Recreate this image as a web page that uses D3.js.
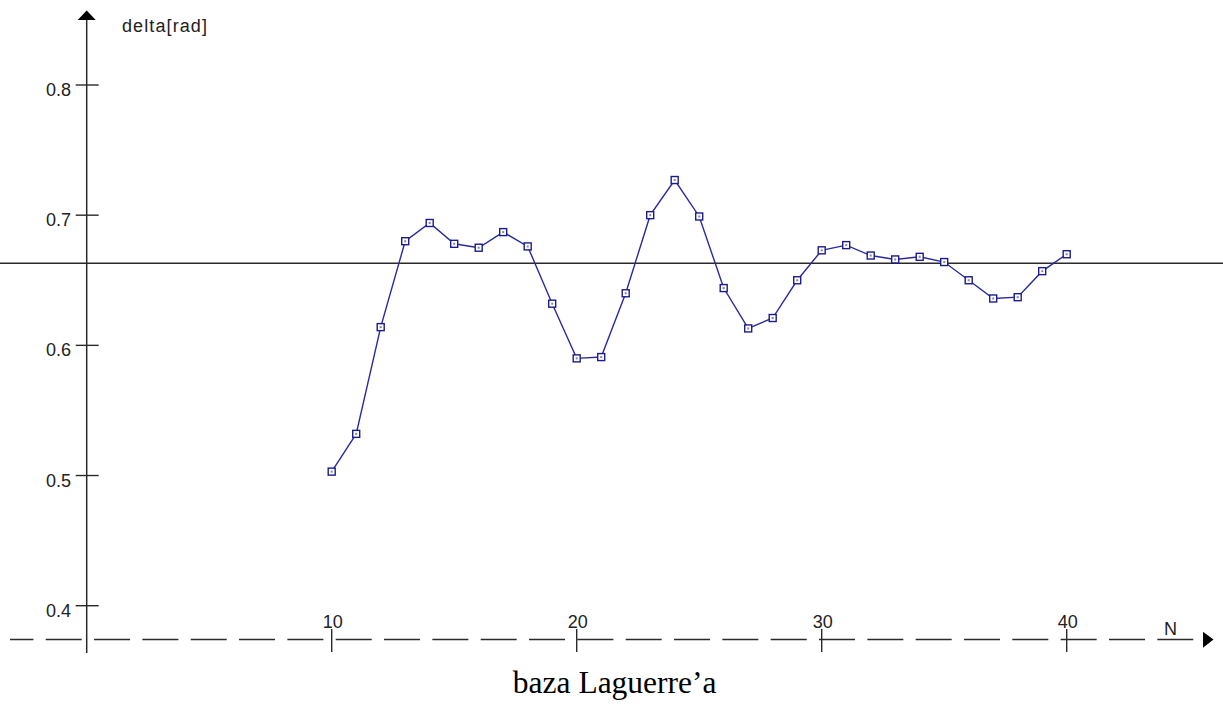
<!DOCTYPE html>
<html>
<head>
<meta charset="utf-8">
<script src="https://cdn.jsdelivr.net/npm/d3@7"></script>
<style>
  html, body { margin: 0; padding: 0; background: #fff; }
  svg { display: block; }
</style>
</head>
<body>
<svg id="chart" width="1223" height="704"></svg>
<script>
// Series: phase delta [rad] against the number of Laguerre basis functions N
const nValues = [10, 11, 12, 13, 14, 15, 16, 17, 18, 19, 20, 21, 22, 23, 24, 25,
                 26, 27, 28, 29, 30, 31, 32, 33, 34, 35, 36, 37, 38, 39, 40];
const deltaValues = [0.503, 0.532, 0.614, 0.680, 0.694, 0.678, 0.675, 0.687, 0.676, 0.632,
                     0.590, 0.591, 0.640, 0.700, 0.727, 0.699, 0.644, 0.613, 0.621, 0.650,
                     0.673, 0.677, 0.669, 0.666, 0.668, 0.664, 0.650, 0.636, 0.637, 0.657, 0.670];
const referenceLevel = 0.663;
const yTicks = [0.4, 0.5, 0.6, 0.7, 0.8];
const xTicks = [10, 20, 30, 40];
const yAxisLabel = "delta[rad]";
const xAxisLabel = "N";
const caption = "baza Laguerre\u2019a";

const svg = d3.select("#chart");
const W = 1223;

const x = d3.scaleLinear().domain([0, 40]).range([86.7, 1066.7]);
const y = d3.scaleLinear().domain([0.4, 0.8]).range([605.7, 85]);

const axisColor = "#2a2a2a";
const seriesColor = "#2a2aa0";
const markColor = "#1c1c8c";
const x0 = x(0);
const axisY = 639.5;

// Horizontal axis: long dashes with an arrowhead
svg.append("line")
  .attr("x1", 10).attr("x2", 1194.5)
  .attr("y1", axisY).attr("y2", axisY)
  .attr("stroke", axisColor).attr("stroke-width", 1.4)
  .attr("stroke-dasharray", "36 12.33")
  .attr("stroke-dashoffset", 12.6);
svg.append("path")
  .attr("d", `M1203,631.7 L1213.5,639.5 L1203,647.7 Z`)
  .attr("fill", "#000");

// Vertical axis with arrowhead
svg.append("line")
  .attr("x1", x0).attr("x2", x0)
  .attr("y1", 18).attr("y2", 653)
  .attr("stroke", axisColor).attr("stroke-width", 1.5);
svg.append("path")
  .attr("d", `M${x0},10.5 L${x0 + 9},20 L${x0 - 9},20 Z`)
  .attr("fill", "#000");

// Y ticks and labels
const yt = svg.append("g");
yt.selectAll("line").data(yTicks).join("line")
  .attr("x1", x0 - 11).attr("x2", x0 + 12)
  .attr("y1", d => y(d)).attr("y2", d => y(d))
  .attr("stroke", axisColor).attr("stroke-width", 1.4);
yt.selectAll("text").data(yTicks).join("text")
  .attr("x", 71).attr("y", d => y(d) + 11)
  .attr("text-anchor", "end")
  .attr("font-family", "'Liberation Sans', Arial, sans-serif")
  .attr("font-size", 18).attr("fill", "#222")
  .text(d => d3.format(".1f")(d));

// X ticks and labels
const xt = svg.append("g");
xt.selectAll("line").data(xTicks).join("line")
  .attr("x1", d => x(d)).attr("x2", d => x(d))
  .attr("y1", 629).attr("y2", 652)
  .attr("stroke", axisColor).attr("stroke-width", 1.4);
xt.selectAll("text").data(xTicks).join("text")
  .attr("x", d => x(d) + 1).attr("y", 628)
  .attr("text-anchor", "middle")
  .attr("font-family", "'Liberation Sans', Arial, sans-serif")
  .attr("font-size", 18).attr("fill", "#222")
  .text(d => d);

// Axis titles
svg.append("text")
  .attr("x", 122).attr("y", 31.5)
  .attr("font-family", "'Liberation Sans', Arial, sans-serif")
  .attr("font-size", 18).attr("fill", "#222")
  .attr("textLength", 85).attr("lengthAdjust", "spacing")
  .text(yAxisLabel);
svg.append("text")
  .attr("x", 1164).attr("y", 635)
  .attr("font-family", "'Liberation Sans', Arial, sans-serif")
  .attr("font-size", 18).attr("fill", "#222")
  .text(xAxisLabel);

// Reference level across the full width
svg.append("line")
  .attr("x1", 0).attr("x2", W)
  .attr("y1", y(referenceLevel)).attr("y2", y(referenceLevel))
  .attr("stroke", axisColor).attr("stroke-width", 1.5);

// Series line
const pts = nValues.map((n, i) => [n, deltaValues[i]]);
svg.append("path")
  .datum(pts)
  .attr("d", d3.line().x(d => x(d[0])).y(d => y(d[1])))
  .attr("fill", "none")
  .attr("stroke", seriesColor).attr("stroke-width", 1.4);

// Square markers
const mk = svg.append("g");
mk.selectAll("rect.m").data(pts).join("rect")
  .attr("class", "m")
  .attr("x", d => x(d[0]) - 3.5).attr("y", d => y(d[1]) - 3.5)
  .attr("width", 7).attr("height", 7)
  .attr("fill", "#fff")
  .attr("stroke", markColor).attr("stroke-width", 1.4);
mk.selectAll("rect.c").data(pts).join("rect")
  .attr("class", "c")
  .attr("x", d => x(d[0]) - 1).attr("y", d => y(d[1]) - 1)
  .attr("width", 2).attr("height", 2)
  .attr("fill", markColor).attr("opacity", 0.55);

// Caption
svg.append("text")
  .attr("x", 614.7).attr("y", 693)
  .attr("text-anchor", "middle")
  .attr("font-family", "'Liberation Serif', 'Times New Roman', serif")
  .attr("font-size", 31.5).attr("fill", "#000")
  .text(caption);
</script>
</body>
</html>
